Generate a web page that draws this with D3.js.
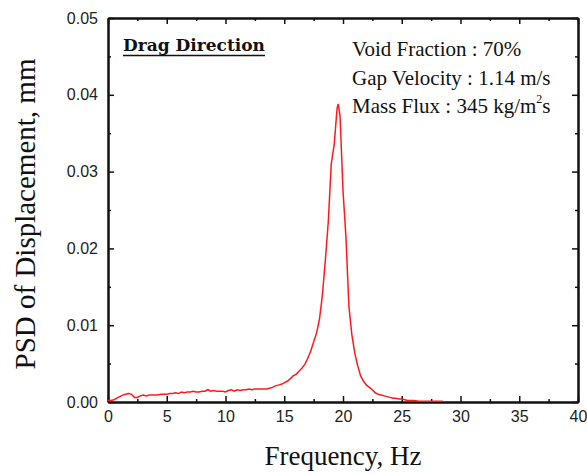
<!DOCTYPE html>
<html>
<head>
<meta charset="utf-8">
<script src="https://cdn.jsdelivr.net/npm/d3@7"></script>
<style>
    body { margin: 0; background: #fff; }
    svg { display: block; }
    .tick text { font-family: "Liberation Sans", Arial, sans-serif; font-size: 16px; fill: #222; }
</style>
</head>
<body>
<svg id="chart"></svg>
<script>
// PSD spectrum, drag direction
const freq = [
    0, 0.25, 0.5, 0.75, 1, 1.25, 1.5, 1.75, 2, 2.25, 2.5, 2.75, 3, 3.25, 3.5, 3.75,
    4, 4.25, 4.5, 4.75, 5, 5.25, 5.5, 5.75, 6, 6.25, 6.5, 6.75, 7, 7.25, 7.5, 7.75,
    8, 8.25, 8.5, 8.75, 9, 9.25, 9.5, 9.75, 10, 10.25, 10.5, 10.75, 11, 11.25, 11.5, 11.75,
    12, 12.25, 12.5, 12.75, 13, 13.25, 13.5, 13.75, 14, 14.25, 14.5, 14.75, 15, 15.25, 15.5, 15.75,
    16, 16.25, 16.5, 16.75, 17, 17.25, 17.5, 17.75, 18, 18.25, 18.5, 18.75, 19, 19.25, 19.5, 19.6,
    19.75, 20, 20.25, 20.5, 20.75, 21, 21.25, 21.5, 21.75, 22, 22.25, 22.5, 22.75, 23, 23.25, 23.5,
    23.75, 24, 24.25, 24.5, 24.75, 25, 25.25, 25.5, 26, 26.5, 27, 27.5, 28, 28.5
];
const psd = [
    0.0002, 0.0002, 0.0003, 0.0005, 0.0007, 0.0009, 0.0010, 0.0011, 0.0010, 0.0006, 0.0006, 0.0008, 0.0009, 0.0008, 0.0009, 0.0009,
    0.0009, 0.0009, 0.0010, 0.0010, 0.0010, 0.0011, 0.0011, 0.0012, 0.0011, 0.0013, 0.0012, 0.0013, 0.0013, 0.0014, 0.0013, 0.0013,
    0.0014, 0.0014, 0.0016, 0.0014, 0.0015, 0.0014, 0.0014, 0.0014, 0.0013, 0.0015, 0.0016, 0.0014, 0.0016, 0.0015, 0.0016, 0.0016,
    0.0017, 0.0016, 0.0017, 0.0017, 0.0017, 0.0017, 0.0017, 0.0018, 0.0019, 0.0021, 0.0022, 0.0023, 0.0025, 0.0027, 0.0030, 0.0034,
    0.0036, 0.0040, 0.0044, 0.0049, 0.0057, 0.0066, 0.0078, 0.0090, 0.0108, 0.0140, 0.0185, 0.0235, 0.0310, 0.0335, 0.0383, 0.0388,
    0.0372, 0.0275, 0.0215, 0.0125, 0.0088, 0.0064, 0.0047, 0.0034, 0.0027, 0.0022, 0.0019, 0.0016, 0.0012, 0.0010, 0.0009, 0.0008,
    0.0007, 0.0006, 0.0005, 0.0005, 0.0004, 0.0004, 0.0003, 0.0002, 0.0002, 0.0001, 0.0001, 0.0001, 0.0001, 0.0001
];

const xTicks = [0, 5, 10, 15, 20, 25, 30, 35, 40];
const xMinor = [2.5, 7.5, 12.5, 17.5, 22.5, 27.5, 32.5, 37.5];
const yTicks = [0, 0.01, 0.02, 0.03, 0.04, 0.05];
const yMinor = [0.005, 0.015, 0.025, 0.035, 0.045];

const notes = ["Void Fraction : 70%", "Gap Velocity : 1.14 m/s", "Mass Flux : 345 kg/m"];

const width = 587;
const height = 474;
const margin = { top: 18, right: 9, bottom: 72, left: 108 };
const innerW = width - margin.left - margin.right;
const innerH = height - margin.top - margin.bottom;

const svg = d3.select('#chart').attr('width', width).attr('height', height);
const g = svg.append('g').attr('transform', 'translate(' + margin.left + ',' + margin.top + ')');

const x = d3.scaleLinear().domain([0, 40]).range([0, innerW]);
const y = d3.scaleLinear().domain([0, 0.05]).range([innerH, 0]);

// axes, ticks pointing inward
function styleAxis(sel) {
    sel.select('.domain').attr('stroke', '#111').attr('stroke-width', 2);
    sel.selectAll('.tick line').attr('stroke', '#111').attr('stroke-width', 1.5);
}

g.append('g').attr('transform', 'translate(0,' + innerH + ')')
    .call(d3.axisBottom(x).tickValues(xTicks).tickSizeInner(-6).tickSizeOuter(0).tickPadding(9).tickFormat(d3.format('d')))
    .call(styleAxis);
g.append('g').attr('transform', 'translate(0,' + innerH + ')')
    .call(d3.axisBottom(x).tickValues(xMinor).tickSizeInner(-3).tickSizeOuter(0).tickFormat(''))
    .call(styleAxis);
g.append('g')
    .call(d3.axisTop(x).tickValues(xTicks).tickSizeInner(-6).tickSizeOuter(0).tickFormat(''))
    .call(styleAxis);
g.append('g')
    .call(d3.axisTop(x).tickValues(xMinor).tickSizeInner(-3).tickSizeOuter(0).tickFormat(''))
    .call(styleAxis);

g.append('g')
    .call(d3.axisLeft(y).tickValues(yTicks).tickSizeInner(-6).tickSizeOuter(0).tickPadding(10).tickFormat(d3.format('.2f')))
    .call(styleAxis);
g.append('g')
    .call(d3.axisLeft(y).tickValues(yMinor).tickSizeInner(-3).tickSizeOuter(0).tickFormat(''))
    .call(styleAxis);
g.append('g').attr('transform', 'translate(' + innerW + ',0)')
    .call(d3.axisRight(y).tickValues(yTicks).tickSizeInner(-6).tickSizeOuter(0).tickFormat(''))
    .call(styleAxis);
g.append('g').attr('transform', 'translate(' + innerW + ',0)')
    .call(d3.axisRight(y).tickValues(yMinor).tickSizeInner(-3).tickSizeOuter(0).tickFormat(''))
    .call(styleAxis);

// spectrum line
const line = d3.line()
    .x(function (d, i) { return x(freq[i]); })
    .y(function (d) { return y(d); });

g.append('path')
    .datum(psd)
    .attr('fill', 'none')
    .attr('stroke', '#ff1a1a')
    .attr('stroke-width', 1.5)
    .attr('d', line);

// annotations
g.append('text')
    .attr('x', 15)
    .attr('y', 33)
    .attr('font-family', '"DejaVu Serif", serif')
    .attr('font-weight', 'bold')
    .attr('font-size', 16)
    .attr('textLength', 142)
    .attr('lengthAdjust', 'spacingAndGlyphs')
    .attr('fill', '#111')
    .text('Drag Direction');
g.append('line')
    .attr('x1', 15).attr('x2', 157)
    .attr('y1', 37.5).attr('y2', 37.5)
    .attr('stroke', '#111')
    .attr('stroke-width', 1.5);

const noteText = g.append('g')
    .attr('font-family', '"Liberation Serif", "Times New Roman", serif')
    .attr('font-size', 21)
    .attr('fill', '#111');

noteText.selectAll('text')
    .data(notes)
    .enter()
    .append('text')
    .attr('x', 244)
    .attr('y', function (d, i) { return 38 + i * 28.5; })
    .text(function (d) { return d; });

// superscript on kg/m2s
const last = noteText.selectAll('text').filter(function (d, i) { return i === 2; });
last.append('tspan').attr('dy', -10).attr('font-size', 12).text('2');
last.append('tspan').attr('dy', 10).text('s');

// axis titles
svg.append('text')
    .attr('x', margin.left + innerW / 2)
    .attr('y', 465)
    .attr('text-anchor', 'middle')
    .attr('font-family', '"Liberation Serif", "Times New Roman", serif')
    .attr('font-size', 27)
    .attr('fill', '#111')
    .text('Frequency, Hz');

svg.append('text')
    .attr('transform', 'translate(35,' + 214 + ') rotate(-90)')
    .attr('text-anchor', 'middle')
    .attr('font-family', '"Liberation Serif", "Times New Roman", serif')
    .attr('font-size', 29)
    .attr('fill', '#111')
    .text('PSD of Displacement, mm');
</script>
</body>
</html>
